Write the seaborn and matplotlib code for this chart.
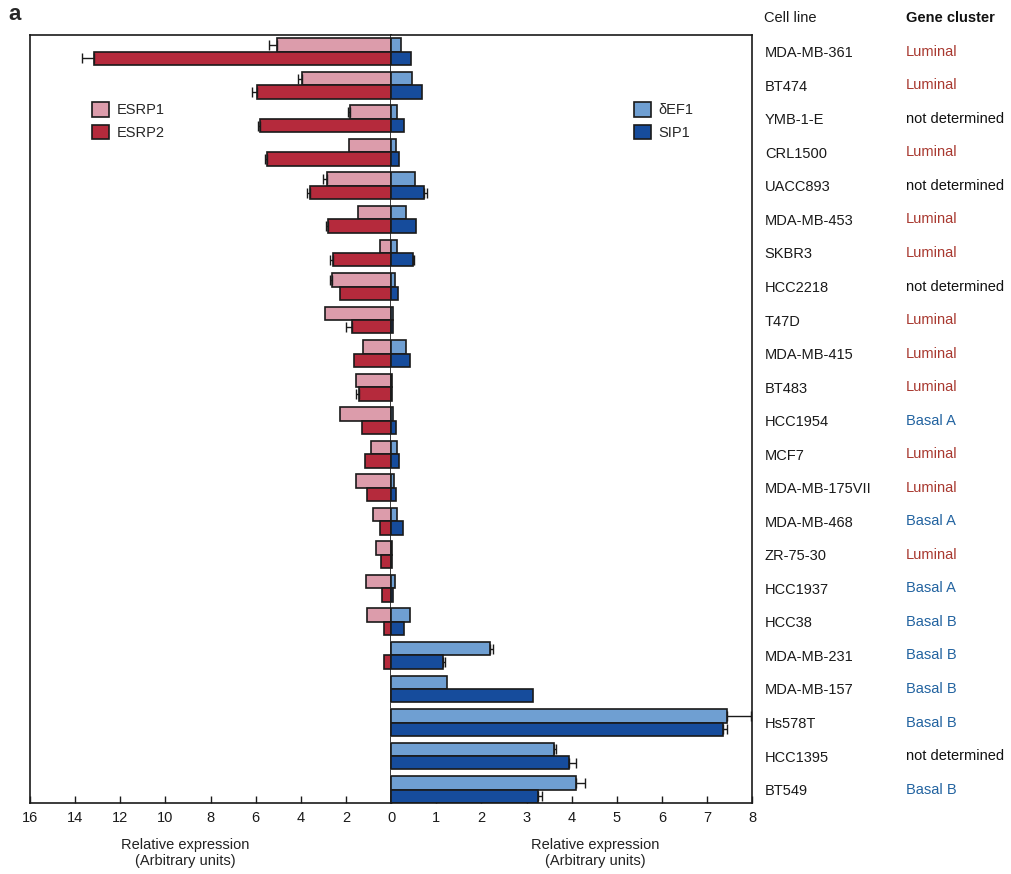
import matplotlib.pyplot as plt
import pandas as pd
import seaborn as sns

cell_lines = [
    "MDA-MB-361", "BT474", "YMB-1-E", "CRL1500", "UACC893", "MDA-MB-453",
    "SKBR3", "HCC2218", "T47D", "MDA-MB-415", "BT483", "HCC1954", "MCF7",
    "MDA-MB-175VII", "MDA-MB-468", "ZR-75-30", "HCC1937", "HCC38",
    "MDA-MB-231", "MDA-MB-157", "Hs578T", "HCC1395", "BT549",
]
gene_cluster = [
    "Luminal", "Luminal", "not determined", "Luminal", "not determined", "Luminal",
    "Luminal", "not determined", "Luminal", "Luminal", "Luminal", "Basal A", "Luminal",
    "Luminal", "Basal A", "Luminal", "Basal A", "Basal B",
    "Basal B", "Basal B", "Basal B", "not determined", "Basal B",
]

esrp1 = [5.07, 3.96, 1.82, 1.89, 2.85, 1.45, 0.49, 2.63, 2.93, 1.27, 1.57, 2.26,
         0.89, 1.55, 0.81, 0.68, 1.12, 1.08, 0.0, 0.0, 0.0, 0.0, 0.0]
esrp2 = [13.15, 5.95, 5.8, 5.51, 3.59, 2.81, 2.6, 2.26, 1.74, 1.67, 1.42, 1.3,
         1.18, 1.08, 0.49, 0.46, 0.41, 0.34, 0.34, 0.0, 0.0, 0.0, 0.0]
esrp1_err = [0.35, 0.15, 0.08, 0.0, 0.15, 0.0, 0.0, 0.08, 0.0, 0.0, 0.0, 0.0,
             0.0, 0.0, 0.0, 0.0, 0.0, 0.0, 0.0, 0.0, 0.0, 0.0, 0.0]
esrp2_err = [0.55, 0.2, 0.08, 0.08, 0.12, 0.1, 0.1, 0.0, 0.25, 0.0, 0.15, 0.0,
             0.0, 0.0, 0.0, 0.0, 0.0, 0.0, 0.0, 0.0, 0.0, 0.0, 0.0]

def1 = [0.21, 0.47, 0.14, 0.10, 0.53, 0.33, 0.14, 0.09, 0.04, 0.33, 0.02, 0.05,
        0.13, 0.07, 0.13, 0.02, 0.09, 0.41, 2.19, 1.24, 7.44, 3.6, 4.1]
sip1 = [0.44, 0.68, 0.29, 0.18, 0.72, 0.56, 0.48, 0.15, 0.05, 0.41, 0.02, 0.11,
        0.18, 0.11, 0.26, 0.02, 0.05, 0.28, 1.15, 3.14, 7.35, 3.95, 3.25]
def1_err = [0.0] * 18 + [0.07, 0.0, 0.52, 0.05, 0.2]
sip1_err = [0.0, 0.0, 0.0, 0.0, 0.07, 0.0, 0.03] + [0.0] * 11 + [0.04, 0.0, 0.1, 0.15, 0.1]

esrp_colors = ["#dc9cab", "#b52a3c"]
zeb_colors = ["#6f9fd2", "#164c9c"]
cluster_colors = {"Luminal": "#a8382f", "Basal A": "#2263a0", "Basal B": "#2263a0",
                  "not determined": "#111111"}

sns.set_theme(style="white")
plt.rcParams["font.family"] = ["Liberation Sans", "DejaVu Sans"]

n = len(cell_lines)
left_df = pd.DataFrame({"cell": cell_lines * 2,
                        "gene": ["ESRP1"] * n + ["ESRP2"] * n,
                        "value": esrp1 + esrp2})
right_df = pd.DataFrame({"cell": cell_lines * 2,
                         "gene": ["\u03b4EF1"] * n + ["SIP1"] * n,
                         "value": def1 + sip1})

fig = plt.figure(figsize=(10.12, 8.74), dpi=100)
ax_l = fig.add_axes([0.0296, 0.0812, 0.357, 0.8788])
ax_r = fig.add_axes([0.3864, 0.0812, 0.357, 0.8788])

panels = [
    (ax_l, left_df, esrp_colors, [esrp1_err, esrp2_err]),
    (ax_r, right_df, zeb_colors, [def1_err, sip1_err]),
]
for ax, df, colors, errs in panels:
    sns.barplot(data=df, x="value", y="cell", hue="gene", order=cell_lines,
                palette=colors, saturation=1, orient="h", errorbar=None, width=0.8,
                edgecolor="#1a1a1a", linewidth=1.2, ax=ax)
    # one-sided error bars at the outer end of each bar
    for cont, err in zip(ax.containers, errs):
        for bar, e in zip(cont, err):
            if e > 0:
                ax.errorbar(bar.get_width(), bar.get_y() + bar.get_height() / 2,
                            xerr=[[0], [e]], fmt="none", ecolor="#1a1a1a",
                            elinewidth=1.0, capsize=3.5, capthick=1.0)
    ax.set_ylim(n - 0.6, -0.5)
    ax.set_ylabel("")
    ax.set_xlabel("Relative expression\n(Arbitrary units)", fontsize=10.5, color="#222222")
    for sp in ax.spines.values():
        sp.set_color("#1a1a1a")
        sp.set_linewidth(1.2)
    ax.tick_params(axis="x", direction="in", length=5, width=1, bottom=True,
                   labelsize=10.5, pad=6, colors="#1a1a1a")

# left half: reversed scale
ax_l.set_xlim(16, 0)
ax_l.set_xticks(range(16, -1, -2))
ax_l.set_xticklabels([str(v) for v in range(16, 0, -2)] + [""])
ax_l.set_yticks([])
ax_l.xaxis.set_label_coords(0.43, -0.045)

# right half
ax_r.set_xlim(0, 8)
ax_r.set_xticks(range(0, 9))
ax_r.spines["left"].set_visible(False)
ax_r.yaxis.tick_right()
ax_r.tick_params(axis="y", length=0, pad=9, labelsize=10.5, labelcolor="#1a1a1a")
ax_r.xaxis.set_label_coords(0.565, -0.045)

ax_l.legend(loc="upper left", bbox_to_anchor=(0.135, 0.93), frameon=False,
            fontsize=10.5, handlelength=1.2, handleheight=1.2, labelspacing=0.5,
            handletextpad=0.5)
ax_r.legend(loc="upper left", bbox_to_anchor=(0.635, 0.93), frameon=False,
            fontsize=10.5, handlelength=1.2, handleheight=1.2, labelspacing=0.5,
            handletextpad=0.5)

# gene cluster column
trans = ax_r.get_yaxis_transform()
for i, cl in enumerate(gene_cluster):
    ax_r.text(1.424, i, cl, transform=trans, ha="left", va="center",
              fontsize=10.5, color=cluster_colors[cl])
ax_r.text(1.033, 1.022, "Cell line", transform=ax_r.transAxes, ha="left",
          va="center", fontsize=10.5, color="#1a1a1a")
ax_r.text(1.424, 1.022, "Gene cluster", transform=ax_r.transAxes, ha="left",
          va="center", fontsize=10.5, color="#111111", fontweight="semibold")

fig.text(0.008, 0.983, "a", fontsize=16, fontweight="bold", ha="left", va="center")

fig.savefig("out.png", dpi=100)
